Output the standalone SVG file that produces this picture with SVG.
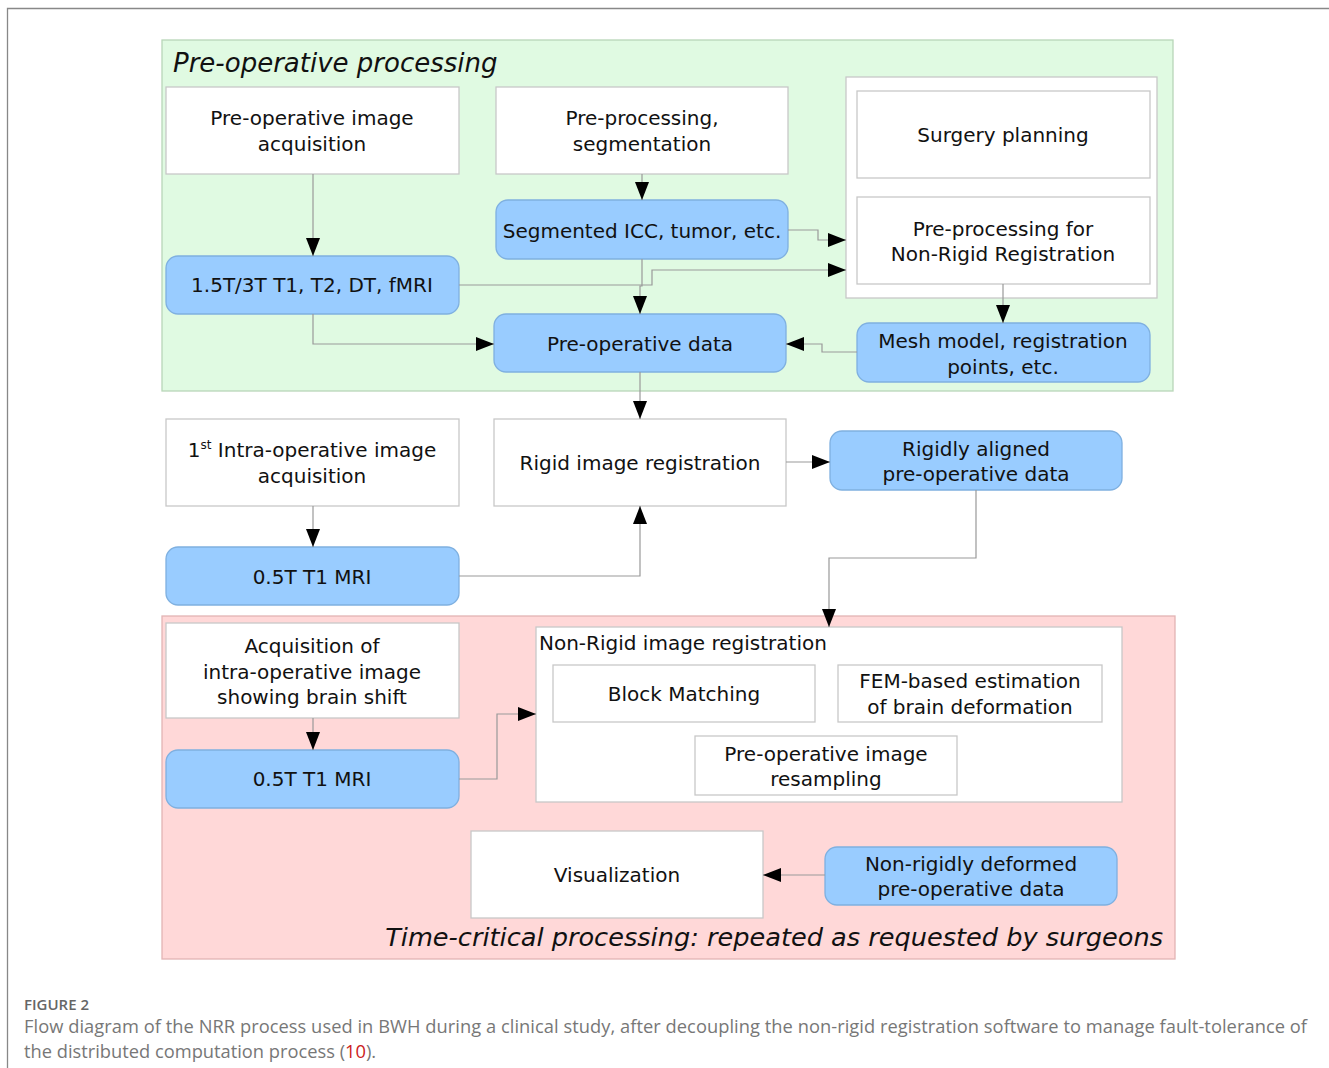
<svg xmlns="http://www.w3.org/2000/svg" width="1329" height="1068" viewBox="0 0 1329 1068">
<defs>
<marker id="ah" markerUnits="userSpaceOnUse" markerWidth="18" markerHeight="14" refX="18" refY="7" orient="auto">
<path d="M0,0 L18,7 L0,14 z" fill="#000"/>
</marker>
<style>
.t{font-family:"DejaVu Sans",Verdana,sans-serif;font-size:20px;fill:#111;text-anchor:middle}
.ts{text-anchor:start}
.ti{font-family:"DejaVu Sans",Verdana,sans-serif;font-size:26px;font-style:italic;fill:#111}
.w{fill:#fff;stroke:#c8c8c8;stroke-width:1.3}
.b{fill:#99ccff;stroke:#7fb0e0;stroke-width:1.3}
.c{fill:none;stroke:#999;stroke-width:1.2}
.cap{font-family:"Open Sans","Noto Sans",sans-serif;fill:#777;font-size:18.3px}
</style>
</defs>
<rect width="1329" height="1068" fill="#fff"/>
<path d="M7.5,1068 V8.5 H1329" fill="none" stroke="#888" stroke-width="1.3"/>

<g id="pre-operative-region">
<rect x="162" y="40" width="1011" height="351" fill="#e0fae2" stroke="#b8d6b8" stroke-width="1.3"/>
<text class="ti" x="173" y="72">Pre-operative processing</text>
</g>
<g id="time-critical-region">
<rect x="162" y="616" width="1013" height="343" fill="#ffd8d8" stroke="#e2b4b4" stroke-width="1.3"/>
<text class="ti" x="1163" y="946" text-anchor="end" style="font-size:25.6px">Time-critical processing: repeated as requested by surgeons</text>
</g>

<g id="n-preop-acq"><rect class="w" x="166" y="87" width="293" height="87"/><text class="t" x="312" y="125">Pre-operative image</text><text class="t" x="312" y="151">acquisition</text></g>
<g id="n-preproc-seg"><rect class="w" x="496" y="87" width="292" height="87"/><text class="t" x="642" y="125">Pre-processing,</text><text class="t" x="642" y="151">segmentation</text></g>
<g id="n-planning-group"><rect class="w" x="846" y="77" width="311" height="221"/></g>
<g id="n-surgery-planning"><rect class="w" x="857" y="91" width="293" height="87"/><text class="t" x="1003" y="142">Surgery planning</text></g>
<g id="n-preproc-nrr"><rect class="w" x="857" y="197" width="293" height="87"/><text class="t" x="1003" y="236">Pre-processing for</text><text class="t" x="1003" y="261">Non-Rigid Registration</text></g>
<g id="n-segmented"><rect class="b" x="496" y="200" width="292" height="59" rx="12"/><text class="t" x="642" y="238">Segmented ICC, tumor, etc.</text></g>
<g id="n-mri-preop"><rect class="b" x="166" y="256" width="293" height="58" rx="12"/><text class="t" x="312" y="292">1.5T/3T T1, T2, DT, fMRI</text></g>
<g id="n-preop-data"><rect class="b" x="494" y="314" width="292" height="58" rx="12"/><text class="t" x="640" y="351">Pre-operative data</text></g>
<g id="n-mesh"><rect class="b" x="857" y="323" width="293" height="59" rx="12"/><text class="t" x="1003" y="348">Mesh model, registration</text><text class="t" x="1003" y="374">points, etc.</text></g>

<g id="n-intra-acq1"><rect class="w" x="166" y="419" width="293" height="87"/><text class="t" x="312" y="457">1<tspan font-size="12" dy="-8">st</tspan><tspan dy="8"> Intra-operative image</tspan></text><text class="t" x="312" y="483">acquisition</text></g>
<g id="n-rigid-reg"><rect class="w" x="494" y="419" width="292" height="87"/><text class="t" x="640" y="470">Rigid image registration</text></g>
<g id="n-rigid-aligned"><rect class="b" x="830" y="431" width="292" height="59" rx="12"/><text class="t" x="976" y="456">Rigidly aligned</text><text class="t" x="976" y="481">pre-operative data</text></g>
<g id="n-mri-intra1"><rect class="b" x="166" y="547" width="293" height="58" rx="12"/><text class="t" x="312" y="584">0.5T T1 MRI</text></g>

<g id="n-intra-acq2"><rect class="w" x="166" y="623" width="293" height="95"/><text class="t" x="312" y="653">Acquisition of</text><text class="t" x="312" y="679">intra-operative image</text><text class="t" x="312" y="704">showing brain shift</text></g>
<g id="n-mri-intra2"><rect class="b" x="166" y="750" width="293" height="58" rx="12"/><text class="t" x="312" y="786">0.5T T1 MRI</text></g>
<g id="n-nrr"><rect class="w" x="536" y="627" width="586" height="175"/><text class="t ts" x="539" y="650">Non-Rigid image registration</text></g>
<g id="n-block-matching"><rect class="w" x="553" y="665" width="262" height="57"/><text class="t" x="684" y="701">Block Matching</text></g>
<g id="n-fem"><rect class="w" x="838" y="665" width="264" height="57"/><text class="t" x="970" y="688">FEM-based estimation</text><text class="t" x="970" y="714">of brain deformation</text></g>
<g id="n-resampling"><rect class="w" x="695" y="736" width="262" height="59"/><text class="t" x="826" y="761">Pre-operative image</text><text class="t" x="826" y="786">resampling</text></g>
<g id="n-visualization"><rect class="w" x="471" y="831" width="292" height="87"/><text class="t" x="617" y="882">Visualization</text></g>
<g id="n-nonrigid-data"><rect class="b" x="825" y="847" width="292" height="58" rx="12"/><text class="t" x="971" y="871">Non-rigidly deformed</text><text class="t" x="971" y="896">pre-operative data</text></g>

<g id="connectors">
<path class="c" d="M313,174 V256" marker-end="url(#ah)"/>
<path class="c" d="M642,174 V200" marker-end="url(#ah)"/>
<path class="c" d="M788,230 H818 V240 H846" marker-end="url(#ah)"/>
<path class="c" d="M459,285 H652 V270 H846" marker-end="url(#ah)"/>
<path class="c" d="M642,259 V286 H640 V314" marker-end="url(#ah)"/>
<path class="c" d="M313,314 V344 H494" marker-end="url(#ah)"/>
<path class="c" d="M1003,284 V323" marker-end="url(#ah)"/>
<path class="c" d="M857,352 H822 V344 H786" marker-end="url(#ah)"/>
<path class="c" d="M640,372 V419" marker-end="url(#ah)"/>
<path class="c" d="M313,506 V547" marker-end="url(#ah)"/>
<path class="c" d="M459,576 H640 V506" marker-end="url(#ah)"/>
<path class="c" d="M786,462 H830" marker-end="url(#ah)"/>
<path class="c" d="M976,490 V558 H829 V627" marker-end="url(#ah)"/>
<path class="c" d="M313,718 V750" marker-end="url(#ah)"/>
<path class="c" d="M459,779 H497 V714 H536" marker-end="url(#ah)"/>
<path class="c" d="M825,875 H763" marker-end="url(#ah)"/>
</g>

<text x="24" y="1010" font-family="'Open Sans','Noto Sans',sans-serif" font-size="15" font-weight="600" fill="#666">FIGURE 2</text>
<text class="cap" x="24" y="1033" textLength="1283" lengthAdjust="spacing">Flow diagram of the NRR process used in BWH during a clinical study, after decoupling the non-rigid registration software to manage fault-tolerance of</text>
<text class="cap" x="24" y="1058">the distributed computation process (<tspan fill="#cc2020">10</tspan>).</text>
</svg>
